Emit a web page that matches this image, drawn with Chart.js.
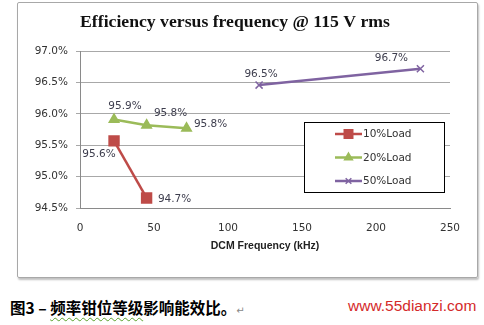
<!DOCTYPE html>
<html>
<head>
<meta charset="utf-8">
<script src="https://cdn.jsdelivr.net/npm/chart.js@4.4.1/dist/chart.umd.min.js"></script>
<style>
    html, body { margin: 0; padding: 0; background: #fff; }
    body { width: 484px; height: 325px; position: relative; overflow: hidden; }
    #frame {
        position: absolute; left: 17px; top: 2px; width: 459px; height: 274px;
        border: 1px solid #a8a8a8; border-radius: 2px;
        box-shadow: 1px 2px 2px rgba(0,0,0,0.25);
    }
    #wrap { position: absolute; left: 0; top: 0; width: 484px; height: 280px; }
    #caption {
        position: absolute; left: 10px; top: 296px; white-space: nowrap;
        font: bold 15.5px "Noto Sans CJK SC", sans-serif; color: #000;
    }
    #caption .sq { text-decoration: underline wavy #5aa02c; text-decoration-thickness: 1px; text-underline-offset: 3px; }
    #caption .ret { font: 10px "DejaVu Sans", sans-serif; color: #888; font-weight: normal; }
    #site {
        position: absolute; left: 348px; top: 297px; white-space: nowrap;
        font: 15.5px "Liberation Sans", Arial, sans-serif; color: #d42a2a;
    }
</style>
</head>
<body>
<div id="frame"></div>
<div id="wrap"><canvas id="chart" width="484" height="280"></canvas></div>
<div id="caption">图3 – <span class="sq">频率钳位等级</span>影响能效比。<span class="ret">↵</span></div>
<div id="site">www.55dianzi.com</div>

<script>
// values
const seriesNames = ['10%Load', '20%Load', '50%Load'];
const load10x = [23, 45];
const load10y = [95.57, 94.66];
const load20x = [23, 45, 72];
const load20y = [95.91, 95.82, 95.77];
const load50x = [121, 230];
const load50y = [96.46, 96.72];
const xTicks = [0, 50, 100, 150, 200, 250];
const yTicks = [94.5, 95.0, 95.5, 96.0, 96.5, 97.0];

const toPoints = (xs, ys) => xs.map((x, i) => ({ x: x, y: ys[i] }));

const RED = '#be4b48';
const GREEN = '#9bbb59';
const PURPLE = '#7f63a1';
const LABEL_FONT = '10.5px "DejaVu Sans", sans-serif';

// per point label offsets (px) from the marker
const labelOffsets = [
    [[-15, 13], [28, 1]],
    [[11, -13], [24, -12], [24, -4]],
    [[2, -11], [-29, -11]]
];

const pointLabels = {
    id: 'pointLabels',
    afterDatasetsDraw(chart) {
        const ctx = chart.ctx;
        ctx.save();
        ctx.font = LABEL_FONT;
        ctx.fillStyle = '#3d3d4d';
        ctx.textAlign = 'center';
        ctx.textBaseline = 'middle';
        chart.data.datasets.forEach((ds, d) => {
            chart.getDatasetMeta(d).data.forEach((pt, i) => {
                const off = labelOffsets[d][i];
                ctx.fillText(ds.data[i].y.toFixed(1) + '%', pt.x + off[0], pt.y + off[1]);
            });
        });
        ctx.restore();
    }
};

const boxLegend = {
    id: 'boxLegend',
    afterDraw(chart) {
        const ctx = chart.ctx;
        ctx.save();
        ctx.fillStyle = '#fff';
        ctx.fillRect(304, 122, 140, 70);
        ctx.strokeStyle = '#000';
        ctx.lineWidth = 1;
        ctx.strokeRect(304.5, 122.5, 140, 70);
        const rows = [134, 157.5, 181];
        chart.data.datasets.forEach((ds, d) => {
            const y = rows[d];
            ctx.strokeStyle = ds.borderColor;
            ctx.fillStyle = ds.borderColor;
            ctx.lineWidth = 2.5;
            ctx.beginPath();
            ctx.moveTo(335, y);
            ctx.lineTo(362, y);
            ctx.stroke();
            ctx.lineWidth = 1.5;
            Chart.helpers.drawPoint(ctx, {
                pointStyle: ds.pointStyle, radius: ds.pointRadius - 1, borderWidth: 1.5
            }, 348.5, y);
            ctx.fillStyle = '#333';
            ctx.font = LABEL_FONT;
            ctx.textAlign = 'left';
            ctx.textBaseline = 'middle';
            ctx.fillText(ds.label, 363, y + 0.5);
        });
        ctx.restore();
    }
};

function makeSet(label, color, style, radius, pts) {
    return {
        label: label,
        data: pts,
        borderColor: color,
        backgroundColor: color,
        pointBackgroundColor: color,
        pointBorderColor: color,
        pointStyle: style,
        pointRadius: radius,
        pointBorderWidth: 1.5,
        borderWidth: 2.5,
        tension: 0
    };
}

new Chart(document.getElementById('chart'), {
    type: 'scatter',
    data: {
        datasets: [
            makeSet(seriesNames[0], RED, 'rect', 7, toPoints(load10x, load10y)),
            makeSet(seriesNames[1], GREEN, 'triangle', 5.5, toPoints(load20x, load20y)),
            makeSet(seriesNames[2], PURPLE, 'crossRot', 5, toPoints(load50x, load50y))
        ]
    },
    options: {
        responsive: false,
        animation: false,
        showLine: true,
        layout: { padding: { left: 20, right: 34, top: 0, bottom: 28 } },
        plugins: {
            legend: { display: false },
            tooltip: { enabled: false },
            title: {
                display: true,
                text: 'Efficiency versus frequency @ 115 V rms',
                color: '#111',
                font: { family: '"Liberation Serif", serif', size: 17.7, weight: 'bold' },
                padding: { top: 12, bottom: 18 }
            }
        },
        scales: {
            x: {
                type: 'linear',
                min: xTicks[0],
                max: xTicks[xTicks.length - 1],
                afterBuildTicks: s => { s.ticks = xTicks.map(v => ({ value: v })); },
                grid: { display: false, drawTicks: false },
                border: { color: '#8a8a8a', width: 1 },
                ticks: {
                    color: '#333',
                    font: { family: '"DejaVu Sans", sans-serif', size: 10.5 },
                    padding: 14
                },
                title: {
                    display: true,
                    text: 'DCM Frequency (kHz)',
                    color: '#222',
                    font: { family: '"Liberation Sans", sans-serif', size: 10.5, weight: 'bold' },
                    padding: { top: 4, bottom: 0 }
                },
                afterFit: s => { s.height = 44; }
            },
            y: {
                type: 'linear',
                min: yTicks[0],
                max: yTicks[yTicks.length - 1],
                afterBuildTicks: s => { s.ticks = yTicks.map(v => ({ value: v })); },
                grid: { color: '#a8a8a8', tickLength: 4, tickColor: '#a8a8a8' },
                border: { color: '#8a8a8a', width: 1 },
                ticks: {
                    color: '#333',
                    font: { family: '"DejaVu Sans", sans-serif', size: 10.5 },
                    padding: 8,
                    callback: v => v.toFixed(1) + '%'
                },
                afterFit: s => { s.width = 60; }
            }
        }
    },
    plugins: [pointLabels, boxLegend]
});
</script>
</body>
</html>
